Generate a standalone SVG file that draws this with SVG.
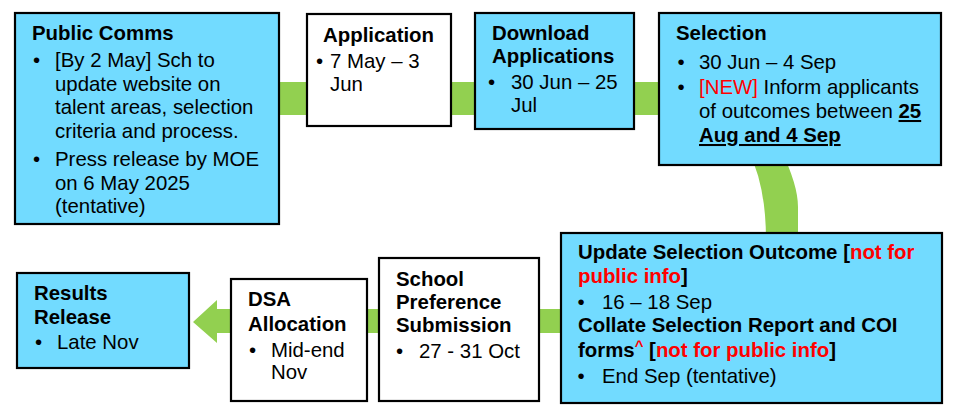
<svg xmlns="http://www.w3.org/2000/svg" width="964" height="414" viewBox="0 0 964 414">
<style>
text{font-family:"Liberation Sans",Arial,sans-serif;font-size:20.4px;fill:#000}
.b{font-weight:bold}
.r{fill:#FF0000}
.u{text-decoration:underline}
.box{stroke:#000;stroke-width:2.2}
.cy{fill:#72DBFF}
.wh{fill:#FFFFFF}
.band{fill:#92D050}
</style>
<rect width="964" height="414" fill="#FFFFFF"/>
<g id="connectors">
<rect class="band" x="270" y="82" width="420" height="33"/>
<path class="band" d="M 748,150 Q 766,185 766,240 L 798,240 L 798,207 Q 798,185 781,150 Z"/>
<path class="band" d="M 193,322 L 217,300 L 217,309 L 565,309 L 565,333 L 217,333 L 217,343 Z"/>
</g>
<g id="public-comms">
<rect class="box cy" x="15" y="13" width="264" height="211"/>
<text class="b" x="32" y="40">Public Comms</text>
<text x="33" y="67">•</text>
<text x="55" y="67">[By 2 May] Sch to</text>
<text x="55" y="90.5">update website on</text>
<text x="55" y="114">talent areas, selection</text>
<text x="55" y="137.5">criteria and process.</text>
<text x="33" y="166">•</text>
<text x="55" y="166">Press release by MOE</text>
<text x="55" y="189.5">on 6 May 2025</text>
<text x="55" y="213">(tentative)</text>
</g>
<g id="application">
<rect class="box wh" x="307" y="14" width="144" height="112"/>
<text class="b" x="323" y="42">Application</text>
<text x="316" y="68">•</text>
<text x="330" y="68">7 May – 3</text>
<text x="330" y="91">Jun</text>
</g>
<g id="download-applications">
<rect class="box cy" x="475" y="13" width="159" height="116"/>
<text class="b" x="492" y="40">Download</text>
<text class="b" x="492" y="63">Applications</text>
<text x="488" y="89">•</text>
<text x="511" y="89">30 Jun – 25</text>
<text x="511" y="112">Jul</text>
</g>
<g id="selection">
<rect class="box cy" x="659" y="13" width="282" height="152"/>
<text class="b" x="676" y="40">Selection</text>
<text x="677.5" y="69">•</text>
<text x="699" y="69">30 Jun – 4 Sep</text>
<text x="677.5" y="94">•</text>
<text x="699" y="94"><tspan class="r">[NEW]</tspan> Inform applicants</text>
<text x="699" y="118">of outcomes between <tspan class="b u">25</tspan></text>
<text class="b u" x="699" y="142">Aug and 4 Sep</text>
</g>
<g id="update-selection-outcome">
<rect class="box cy" x="561" y="233" width="381" height="170"/>
<text class="b" x="578" y="259">Update Selection Outcome [<tspan class="r">not for</tspan></text>
<text class="b" x="578" y="283"><tspan class="r">public info</tspan>]</text>
<text x="577.5" y="309">•</text>
<text x="602" y="309">16 – 18 Sep</text>
<text class="b" x="578" y="332">Collate Selection Report and COI</text>
<text class="b" x="578" y="357">forms<tspan class="r" font-size="15" dy="-6">^</tspan><tspan dy="6"> [</tspan><tspan class="r">not for public info</tspan>]</text>
<text x="577.5" y="383">•</text>
<text x="602" y="383">End Sep (tentative)</text>
</g>
<g id="school-preference-submission">
<rect class="box wh" x="379" y="258" width="160" height="143"/>
<text class="b" x="396" y="286">School</text>
<text class="b" x="396" y="309">Preference</text>
<text class="b" x="396" y="332">Submission</text>
<text x="396" y="358">•</text>
<text x="419" y="358">27 - 31 Oct</text>
</g>
<g id="dsa-allocation">
<rect class="box wh" x="231" y="279" width="136" height="122"/>
<text class="b" x="248" y="306">DSA</text>
<text class="b" x="248" y="331">Allocation</text>
<text x="249" y="357">•</text>
<text x="271" y="357">Mid-end</text>
<text x="271" y="379">Nov</text>
</g>
<g id="results-release">
<rect class="box cy" x="17" y="273" width="172" height="95"/>
<text class="b" x="34" y="300">Results</text>
<text class="b" x="34" y="324">Release</text>
<text x="35" y="349">•</text>
<text x="57" y="349">Late Nov</text>
</g>
</svg>
